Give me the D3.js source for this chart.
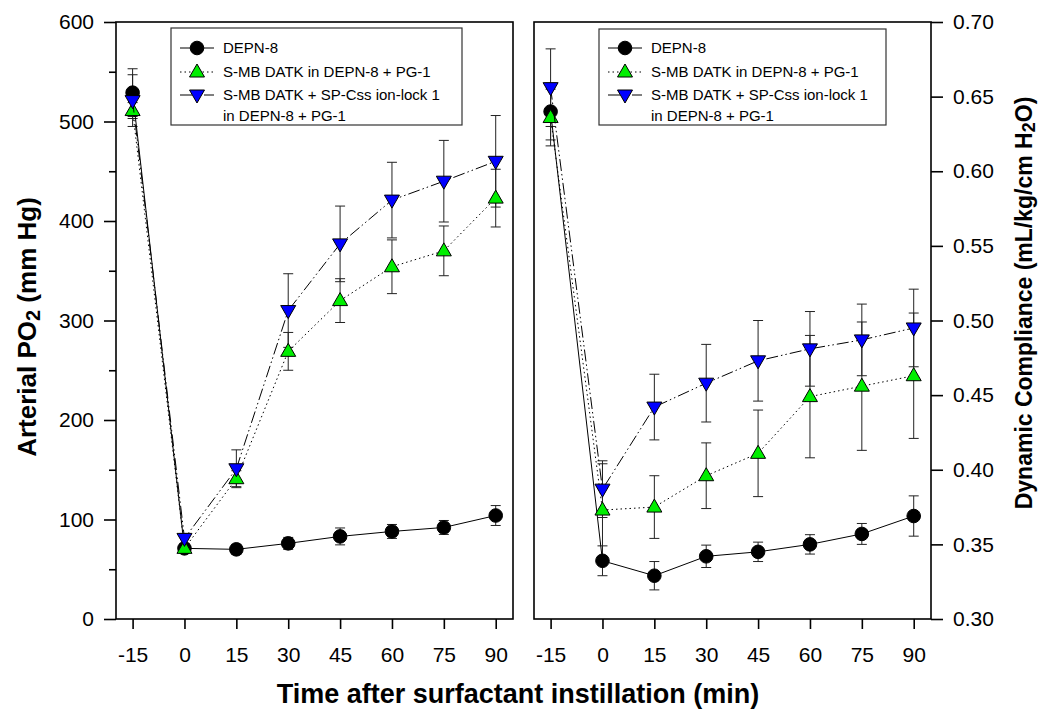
<!DOCTYPE html>
<html lang="en">
<head>
<meta charset="UTF-8">
<title>PO2 and compliance</title>
<script src="https://cdn.jsdelivr.net/npm/d3@7"></script>
<style>
  body { margin: 0; background: #fff; }
  svg { display: block; font-family: "Liberation Sans", Arial, sans-serif; }
</style>
</head>
<body>
<div id="chart"></div>
<script>
// data
const times = [-15, 0, 15, 30, 45, 60, 75, 90]
const seriesNames = ["DEPN-8", "S-MB DATK in DEPN-8 + PG-1", "S-MB DATK + SP-Css ion-lock 1", "in DEPN-8 + PG-1"]

const po2Depn = [529, 71, 70, 76, 83, 88, 92, 104]
const po2DepnErr = [24, 4, 5, 6, 8.5, 7, 7, 10]
const po2Datk = [511, 71, 141, 269, 320, 354, 370, 423]
const po2DatkErr = [8, 3, 8, 19, 22, 27, 25, 29]
const po2Ion = [521, 81, 151, 310, 377, 421, 440, 460]
const po2IonErr = [26, 5, 19, 37, 38, 38, 41, 46]

const compDepn = [0.640, 0.339, 0.329, 0.342, 0.345, 0.350, 0.357, 0.369]
const compDepnErr = [0.019, 0.010, 0.0095, 0.0075, 0.0065, 0.0065, 0.007, 0.0135]
const compDatk = [0.636, 0.373, 0.375, 0.396, 0.411, 0.449, 0.456, 0.463]
const compDatkErr = [0.019, 0.031, 0.021, 0.022, 0.029, 0.041, 0.043, 0.042]
const compIon = [0.656, 0.387, 0.442, 0.458, 0.473, 0.481, 0.487, 0.495]
const compIonErr = [0.026, 0.019, 0.022, 0.026, 0.027, 0.025, 0.024, 0.026]

const po2Ticks = [0, 100, 200, 300, 400, 500, 600]
const po2Minor = [50, 150, 250, 350, 450, 550]
const compTicks = [0.30, 0.35, 0.40, 0.45, 0.50, 0.55, 0.60, 0.65, 0.70]

const w = 1041
const h = 712
const plotTop = 22, plotBottom = 619
const fontStack = "Liberation Sans, Arial, sans-serif"

const svg = d3.select("#chart").append("svg")
    .attr("width", w)
    .attr("height", h)

const styles = [
    {fill: "#000000", dash: null, shape: "circle"},
    {fill: "#00ee00", dash: "1.5,3", shape: "up"},
    {fill: "#0000ff", dash: "12,3,1.5,3,1.5,3", shape: "down"}
]

function marker(g, shape, fill) {
    if (shape === "circle") {
        g.append("circle").attr("r", 6.8).attr("fill", fill).attr("stroke", "#000")
    } else if (shape === "up") {
        g.append("path").attr("d", "M0,-8L7.5,5L-7.5,5Z").attr("fill", fill).attr("stroke", "#000")
    } else {
        g.append("path").attr("d", "M0,8L7.5,-5L-7.5,-5Z").attr("fill", fill).attr("stroke", "#000")
    }
}

function panel(x0, x1, series, yDomain) {
    const xScale = d3.scaleLinear().domain([-19.8, 95]).range([x0, x1])
    const yScale = d3.scaleLinear().domain(yDomain).range([plotBottom, plotTop])
    const g = svg.append("g")

    const line = d3.line().x(d => xScale(d[0])).y(d => yScale(d[1]))

    series.forEach((s, k) => {
        const pts = times.map((t, i) => [t, s.v[i], s.e[i]])
        // error bars
        pts.forEach(p => {
            const cx = xScale(p[0])
            const eb = g.append("g").attr("stroke", "#222").attr("stroke-width", 1)
            eb.append("line").attr("x1", cx).attr("x2", cx)
                .attr("y1", yScale(p[1] - p[2])).attr("y2", yScale(p[1] + p[2]))
            eb.append("line").attr("x1", cx - 5).attr("x2", cx + 5)
                .attr("y1", yScale(p[1] + p[2])).attr("y2", yScale(p[1] + p[2]))
            eb.append("line").attr("x1", cx - 5).attr("x2", cx + 5)
                .attr("y1", yScale(p[1] - p[2])).attr("y2", yScale(p[1] - p[2]))
        })
    })
    series.forEach((s, k) => {
        const pts = times.map((t, i) => [t, s.v[i]])
        g.append("path").datum(pts)
            .attr("d", line)
            .attr("fill", "none")
            .attr("stroke", "#000")
            .attr("stroke-width", 1)
            .attr("stroke-dasharray", styles[k].dash)
        pts.forEach(p => {
            const m = g.append("g").attr("transform", `translate(${xScale(p[0])},${yScale(p[1])})`)
            marker(m, styles[k].shape, styles[k].fill)
        })
    })

    // frame
    g.append("rect")
        .attr("x", x0).attr("y", plotTop)
        .attr("width", x1 - x0).attr("height", plotBottom - plotTop)
        .attr("fill", "none").attr("stroke", "#000").attr("stroke-width", 1.6)

    const xAxis = d3.axisBottom(xScale).tickValues(times).tickSize(10).tickSizeOuter(0).tickPadding(18)
        .tickFormat(d => String(d))
    const ax = g.append("g").attr("transform", `translate(0,${plotBottom})`).call(xAxis)
    ax.select(".domain").remove()
    ax.selectAll("line").attr("stroke-width", 1.6)
    ax.selectAll("text").attr("font-size", 21).attr("font-family", fontStack)

    return {xScale, yScale, g}
}

function legend(boxX, boxY, boxW, boxH) {
    const lg = svg.append("g")
    lg.append("rect").attr("x", boxX).attr("y", boxY).attr("width", boxW).attr("height", boxH)
        .attr("fill", "#fff").attr("stroke", "#333").attr("stroke-width", 1.2)
    const rows = [48, 72, 95, 116]
    const sx = boxX + 26
    styles.forEach((st, k) => {
        lg.append("line").attr("x1", boxX + 9).attr("x2", boxX + 43)
            .attr("y1", rows[k]).attr("y2", rows[k])
            .attr("stroke", "#000").attr("stroke-width", 1)
            .attr("stroke-dasharray", st.dash)
        const m = lg.append("g").attr("transform", `translate(${sx},${rows[k]})`)
        marker(m, st.shape, st.fill)
    })
    seriesNames.forEach((n, k) => {
        lg.append("text").attr("x", boxX + 52).attr("y", rows[k]).attr("dy", "0.36em")
            .attr("font-size", 15).text(n)
    })
}

// left panel: arterial PO2
const leftPanel = panel(116, 513, [
    {v: po2Depn, e: po2DepnErr},
    {v: po2Datk, e: po2DatkErr},
    {v: po2Ion, e: po2IonErr}
], [0, 600])

const yLeft = svg.append("g").attr("transform", "translate(116,0)")
    .call(d3.axisLeft(leftPanel.yScale).tickValues(po2Ticks).tickSize(12).tickPadding(10).tickSizeOuter(0))
yLeft.select(".domain").remove()
yLeft.selectAll("line").attr("stroke-width", 1.6)
yLeft.selectAll("text").attr("font-size", 21).attr("font-family", fontStack)

const yLeftMinor = svg.append("g").attr("transform", "translate(116,0)")
    .call(d3.axisLeft(leftPanel.yScale).tickValues(po2Minor).tickSize(7).tickFormat("").tickSizeOuter(0))
yLeftMinor.select(".domain").remove()
yLeftMinor.selectAll("line").attr("stroke-width", 1.6)

legend(171, 28, 291, 97)

// right panel: dynamic compliance
const rightPanel = panel(534, 931, [
    {v: compDepn, e: compDepnErr},
    {v: compDatk, e: compDatkErr},
    {v: compIon, e: compIonErr}
], [0.30, 0.70])

const yRight = svg.append("g").attr("transform", "translate(931,0)")
    .call(d3.axisRight(rightPanel.yScale).tickValues(compTicks).tickSize(12).tickPadding(10).tickSizeOuter(0).tickFormat(d3.format(".2f")))
yRight.select(".domain").remove()
yRight.selectAll("line").attr("stroke-width", 1.6)
yRight.selectAll("text").attr("font-size", 21).attr("font-family", fontStack)

legend(599, 29, 287, 96)

// titles
svg.append("text")
    .attr("x", 518).attr("y", 703)
    .attr("text-anchor", "middle")
    .attr("font-weight", "bold")
    .attr("font-size", 27)
    .text("Time after surfactant instillation (min)")

const lt = svg.append("text")
    .attr("transform", "translate(36,327) rotate(-90)")
    .attr("text-anchor", "middle")
    .attr("font-weight", "bold")
    .attr("font-size", 26)
lt.append("tspan").text("Arterial PO")
lt.append("tspan").attr("font-size", 20).attr("dy", 4).text("2")
lt.append("tspan").attr("dy", -4).text(" (mm Hg)")

const rt = svg.append("text")
    .attr("transform", "translate(1032,303) rotate(-90)")
    .attr("text-anchor", "middle")
    .attr("font-weight", "bold")
    .attr("font-size", 23)
rt.append("tspan").text("Dynamic Compliance (mL/kg/cm H")
rt.append("tspan").attr("font-size", 18).attr("dy", 3).text("2")
rt.append("tspan").attr("dy", -3).text("O)")
</script>
</body>
</html>
